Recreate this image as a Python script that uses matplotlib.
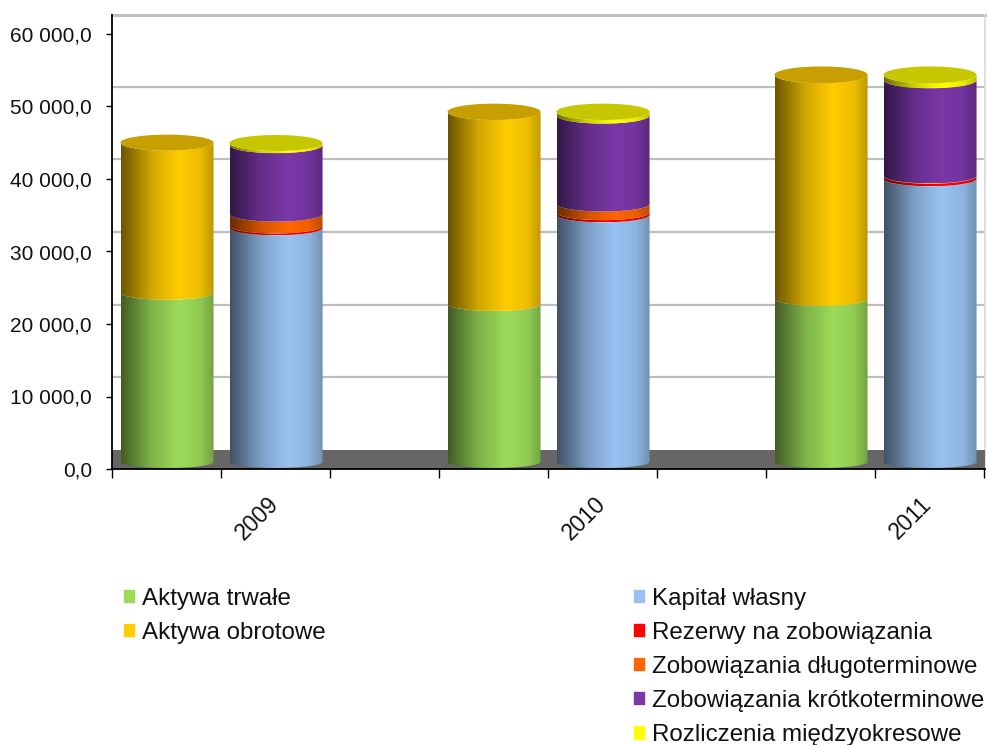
import numpy as np
import matplotlib
matplotlib.use("Agg")
import matplotlib.pyplot as plt
from matplotlib.colors import LinearSegmentedColormap, to_rgb
from matplotlib.patches import Patch
from matplotlib.path import Path

plt.rcParams['font.family'] = ['Liberation Sans', 'DejaVu Sans']

years = ['2009', '2010', '2011']
aktywa_trwale = [23350, 21800, 22500]
aktywa_obrotowe = [20700, 26500, 30900]
kapital_wlasny = [32300, 34100, 39100]
rezerwy = [250, 300, 350]
zob_dlugo = [1650, 1200, 50]
zob_krotko = [9500, 12200, 13200]
rozliczenia = [300, 500, 700]

left_names = ['Aktywa trwałe', 'Aktywa obrotowe']
right_names = ['Kapitał własny', 'Rezerwy na zobowiązania', 'Zobowiązania długoterminowe',
               'Zobowiązania krótkoterminowe', 'Rozliczenia międzyokresowe']
left_series = [aktywa_trwale, aktywa_obrotowe]
right_series = [kapital_wlasny, rezerwy, zob_dlugo, zob_krotko, rozliczenia]
left_colors = ['#9CDB58', '#FFCC00']
right_colors = ['#99C2F2', '#FF0000', '#FF6600', '#7A38A8', '#FFFF00']
cap_mult = 0.78

PX_PER_UNIT_Y = 7.25 / 1000
PX_PER_UNIT_X = 109.0
WALL = 19.5 / PX_PER_UNIT_Y     # depth of the back wall, in value units
BASE = 7.0 / PX_PER_UNIT_Y      # centre of cylinder base above the axis line
RY0 = 6.0 / PX_PER_UNIT_Y       # ellipse half height at the floor
RY_SLOPE = 0.045 / 1000         # ellipses open up with height (perspective)
WIDTH = 93 / PX_PER_UNIT_X
OFFSET = 0.5
centres = [1.005, 4.005, 7.005]
tick_centres = [1, 4, 7]

fig = plt.figure(figsize=(9.89, 7.45), dpi=100, facecolor='white')
W, H = 989, 745
ax = fig.add_axes([112 / W, (H - 469) / H, 873 / W, 454 / H])
xmax = 873 / PX_PER_UNIT_X
ymax = 454 / PX_PER_UNIT_Y


def ry(y):
    return RY0 + RY_SLOPE * y / PX_PER_UNIT_Y


def gradient_cmap(color):
    base = np.array(to_rgb(color))
    stops = [(0.0, 0.42), (0.33, 0.82), (0.62, 1.0), (0.85, 0.93), (1.0, 0.74)]
    return LinearSegmentedColormap.from_list('g', [(p, tuple(base * m)) for p, m in stops])


grad = np.linspace(0, 1, 256).reshape(1, -1)


def segment(xc, y0, y1, color, z):
    t = np.linspace(np.pi, 2 * np.pi, 80)
    xs = xc + WIDTH / 2 * np.cos(t)
    low = BASE + y0 + ry(y0) * np.sin(t)
    high = BASE + y1 + ry(y1) * np.sin(t)
    px = np.r_[xs, xs[::-1], xs[0]]
    py = np.r_[low, high[::-1], low[0]]
    im = ax.imshow(grad, cmap=gradient_cmap(color), aspect='auto', interpolation='bilinear',
                   extent=(xc - WIDTH / 2, xc + WIDTH / 2, y0 + BASE - ry(y0), y1 + BASE), zorder=z)
    im.set_clip_path(Path(np.c_[px, py]), transform=ax.transData)


def cap(xc, y, color, z):
    t = np.linspace(0, 2 * np.pi, 160)
    c = tuple(np.array(to_rgb(color)) * cap_mult)
    ax.fill(xc + WIDTH / 2 * np.cos(t), BASE + y + ry(y) * np.sin(t), color=c, lw=0, zorder=z)


def pillar(xc, series, colors, i):
    bottom = 0
    for vals, col in zip(series, colors):
        segment(xc, bottom, bottom + vals[i], col, 4)
        bottom += vals[i]
    cap(xc, bottom, colors[-1], 5)


# back wall and floor
yticks = np.arange(0, 60001, 10000)
for v in yticks[1:]:
    ax.axhline(v + WALL, color='#BEBEBE', lw=1.6, zorder=1)
ax.axhspan(0, WALL, color='#666666', lw=0, zorder=2)
ax.axhline(ymax, color='#BEBEBE', lw=2.2, zorder=1, clip_on=False)
ax.axvline(xmax, color='#D9D9D9', lw=1.2, zorder=1, clip_on=False)

for i, c in enumerate(centres):
    pillar(c - OFFSET, left_series, left_colors, i)
    pillar(c + OFFSET, right_series, right_colors, i)

ax.set_xlim(0, xmax)
ax.set_ylim(0, ymax)
for s in ('top', 'right'):
    ax.spines[s].set_visible(False)
for s in ('left', 'bottom'):
    ax.spines[s].set_linewidth(1.3)
    ax.spines[s].set_zorder(6)

ax.set_yticks(yticks)
ax.set_yticklabels([f'{v // 1000} 000,0' if v else '0,0' for v in yticks], fontsize=15, color='#111111')
ax.tick_params(axis='y', length=4.5, width=1, pad=10)

ax.set_xticks(np.arange(0, 9))
ax.set_xticklabels([])
ax.tick_params(axis='x', which='major', length=6.5, width=1)
ax.set_xticks([c + 0.33 for c in tick_centres], minor=True)
ax.set_xticklabels(years, minor=True, rotation=45, ha='center', va='top', fontsize=16.5, color='#111111')
ax.tick_params(axis='x', which='minor', length=0, pad=17)


def legend(names, colors, x_px, y_px):
    handles = [Patch(color=c, label=n) for n, c in zip(names, colors)]
    leg = fig.legend(handles=handles, loc='upper left', bbox_to_anchor=(x_px / W, 1 - y_px / H),
                     frameon=False, fontsize=17.4, handlelength=0.43, handleheight=0.43,
                     handletextpad=0.33, labelspacing=0.5, borderpad=0, borderaxespad=0,
                     labelcolor='#111111')
    return leg


legend(left_names, left_colors, 124, 587.5)
legend(right_names, right_colors, 634, 587.5)

fig.savefig('out.png', dpi=100, facecolor='white')
